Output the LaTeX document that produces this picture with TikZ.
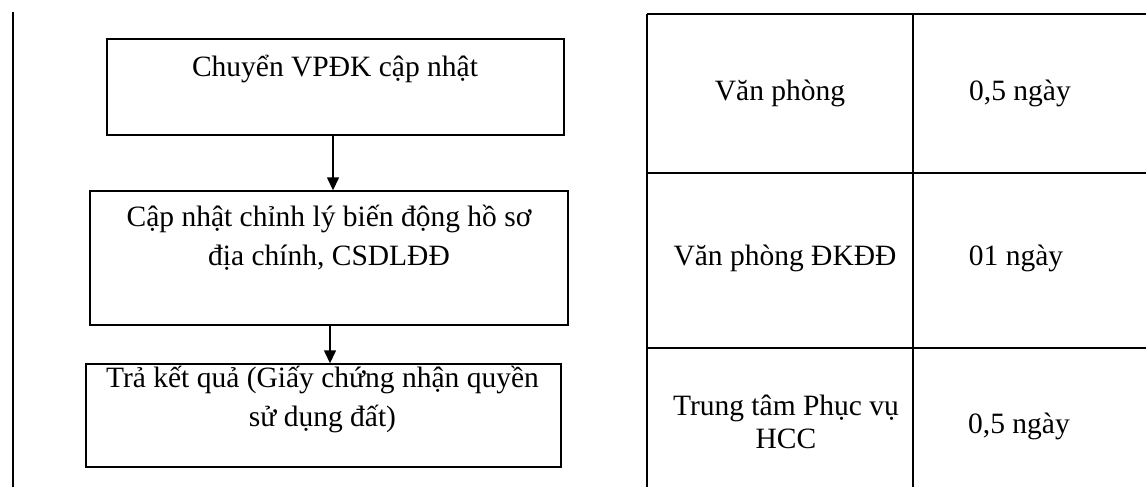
\documentclass[tikz,border=0pt]{standalone}
\usepackage{fontspec}
\setmainfont{Liberation Serif}
\usetikzlibrary{arrows.meta,positioning}
\tikzset{
  stepbox/.style={rectangle, draw=black, line width=1.4pt, inner sep=0pt},
  steptext/.style={align=center, inner sep=0pt, font=\fontsize{29.5}{39}\selectfont},
  celltext/.style={align=center, inner sep=0pt, font=\fontsize{29.5}{33}\selectfont},
  flowarrow/.style={-{Triangle[length=13pt,width=12pt]}, line width=1.4pt},
  gridline/.style={line width=1.4pt}
}

\begin{document}
\begin{tikzpicture}[x=1pt,y=-1pt]
\useasboundingbox (0,0) rectangle (1146,487);

% left margin rule
\draw[gridline] (13,12) -- (13,487);

% flow boxes
\node[stepbox, minimum width=457pt, minimum height=96pt] (send) at (335.5,87) {};
\node[stepbox, minimum width=478pt, minimum height=134pt] (update) at (329,258) {};
\node[stepbox, minimum width=475pt, minimum height=103pt] (result) at (323.5,415.5) {};

% base anchor sits on the last line
\node[steptext, anchor=base] (sendtxt) at (335,77) {Chuyển VPĐK cập nhật};
\node[steptext, anchor=base] (updatetxt) at (329,265) {Cập nhật chỉnh lý biến động hồ sơ\\địa chính, CSDLĐĐ};
\node[steptext, anchor=base] (resulttxt) at (322.5,426) {Trả kết quả (Giấy chứng nhận quyền\\sử dụng đất)};

\draw[flowarrow] ([xshift=-2.5pt]send.south) -- ([xshift=-2.5pt]send.south |- update.north);
\draw[flowarrow] ([xshift=1pt]update.south) -- ([xshift=1pt]update.south |- result.north);

% time table
\draw[gridline] (647,14) -- (1146,14);
\foreach \y in {173,348}
  \draw[gridline] (647,\y) -- (1146,\y);
\foreach \x in {647,913}
  \draw[gridline] (\x,14) -- (\x,487);

\node[celltext, anchor=base] (unit1) at (780,100) {Văn phòng};
\node[celltext, anchor=base] (time1) at (1020,100) {0,5 ngày};
\node[celltext, anchor=base] (unit2) at (785,265) {Văn phòng ĐKĐĐ};
\node[celltext, anchor=base] (time2) at (1016,265) {01 ngày};
\node[celltext, anchor=base] (unit3) at (786,448) {Trung tâm Phục vụ\\HCC};
\node[celltext, anchor=base] (time3) at (1019,433) {0,5 ngày};
\end{tikzpicture}
\end{document}
